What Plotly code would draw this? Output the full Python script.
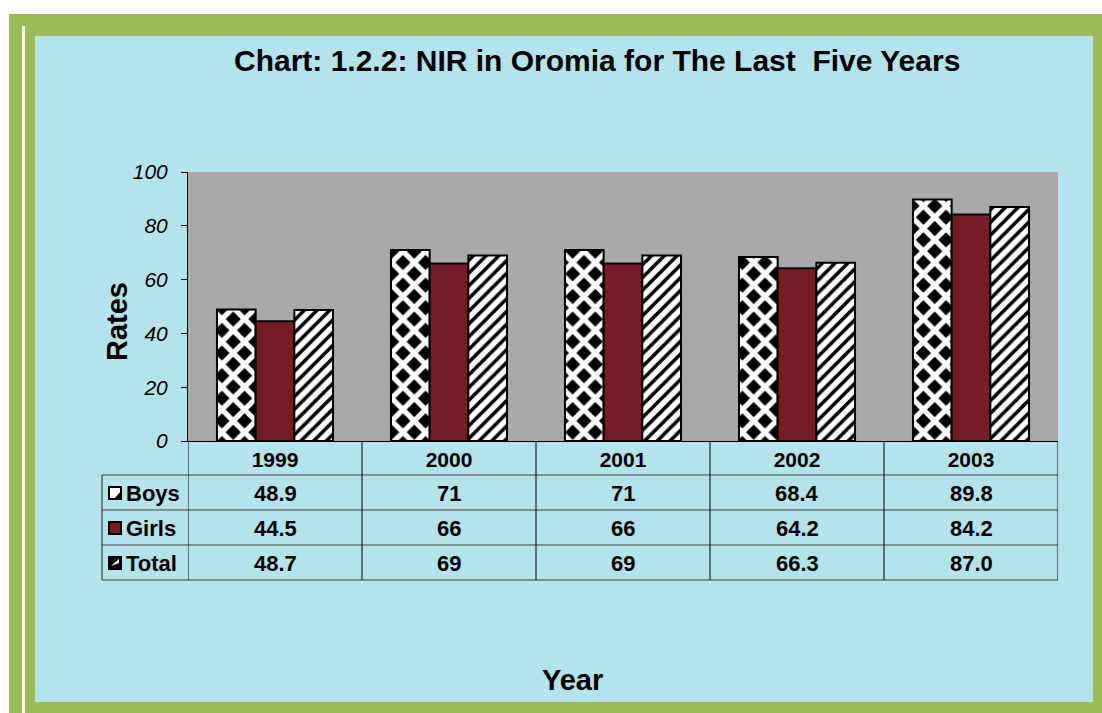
import plotly.graph_objects as go

years = ["1999", "2000", "2001", "2002", "2003"]
boys = [48.9, 71, 71, 68.4, 89.8]
girls = [44.5, 66, 66, 64.2, 84.2]
total = [48.7, 69, 69, 66.3, 87.0]
series_names = ["Boys", "Girls", "Total"]

FW, FH = 1102, 713
L, R, T, B = 188, 1058, 172, 441
W, H = R - L, B - T


def xp(px):
    return (px - L) / W


def yp(py):
    return (B - py) / H


FONT = "Liberation Sans, Arial, sans-serif"
GIRL_COL = "#741d27"

fig = go.Figure()
fig.add_trace(go.Bar(
    x=years, y=boys, name="Boys",
    marker=dict(color="white", line=dict(color="black", width=2),
                pattern=dict(shape="x", fillmode="replace", bgcolor="black",
                             fgcolor="white", size=16, solidity=0.55)),
))
fig.add_trace(go.Bar(
    x=years, y=girls, name="Girls",
    marker=dict(color=GIRL_COL, line=dict(color="black", width=2)),
))
fig.add_trace(go.Bar(
    x=years, y=total, name="Total",
    marker=dict(color="white", line=dict(color="black", width=2),
                pattern=dict(shape="/", fillmode="replace", bgcolor="white",
                             fgcolor="black", size=9, solidity=0.4)),
))

shapes = []
# page frame
shapes.append(dict(type="rect", xref="paper", yref="paper", layer="below",
                   x0=xp(9), x1=xp(1102), y0=yp(14), y1=yp(713),
                   fillcolor="#9bbb59", line=dict(width=0)))
shapes.append(dict(type="rect", xref="paper", yref="paper", layer="below",
                   x0=xp(22), x1=xp(25), y0=yp(26), y1=yp(713),
                   fillcolor="white", line=dict(width=0)))
shapes.append(dict(type="rect", xref="paper", yref="paper", layer="below",
                   x0=xp(35), x1=xp(1093), y0=yp(36), y1=yp(702),
                   fillcolor="#b4e3ec", line=dict(width=0)))
# plot area texture colour
shapes.append(dict(type="rect", xref="paper", yref="paper", layer="below",
                   x0=0, x1=1, y0=0, y1=1,
                   fillcolor="#a9a9ab", line=dict(width=0)))

# data table grid
row_lines = [475, 510, 545, 580]
for py in row_lines:
    shapes.append(dict(type="line", xref="paper", yref="paper",
                       x0=xp(102), x1=1, y0=yp(py), y1=yp(py),
                       line=dict(color="#444444", width=1)))
shapes.append(dict(type="line", xref="paper", yref="paper",
                   x0=xp(102), x1=xp(102), y0=yp(475), y1=yp(580),
                   line=dict(color="#222222", width=1)))
for i in range(len(years) + 1):
    shapes.append(dict(type="line", xref="x", yref="paper",
                       x0=i - 0.5, x1=i - 0.5, y0=0, y1=yp(580),
                       line=dict(color="black", width=1)))

annotations = []
row_centers = [493, 528, 563]
for r, (name, vals) in enumerate(zip(series_names, [boys, girls, total])):
    for i, v in enumerate(vals):
        annotations.append(dict(x=i, xref="x", y=yp(row_centers[r]), yref="paper",
                                xanchor="center", yanchor="middle",
                                text="<b>%s</b>" % str(v), showarrow=False,
                                font=dict(family=FONT, size=22, color="black")))
    annotations.append(dict(x=xp(124), xref="paper", y=yp(row_centers[r]), yref="paper",
                            text="<b>%s</b>" % name, showarrow=False,
                            xanchor="left", yanchor="middle",
                            font=dict(family=FONT, size=22, color="black")))

# legend keys in the table
for r in range(3):
    cy = row_centers[r]
    fill = ["white", GIRL_COL, "black"][r]
    shapes.append(dict(type="rect", xref="paper", yref="paper",
                       x0=xp(109), x1=xp(121), y0=yp(cy + 6), y1=yp(cy - 6),
                       fillcolor=fill, line=dict(color="black", width=2)))
# boys key: black lower-right corner; total key: white diagonal band
shapes.append(dict(type="path", xref="paper", yref="paper",
                   path="M %f,%f L %f,%f L %f,%f Z" % (xp(121), yp(499), xp(114), yp(499), xp(121), yp(491)),
                   fillcolor="black", line=dict(width=0)))
shapes.append(dict(type="path", xref="paper", yref="paper",
                   path="M %f,%f L %f,%f L %f,%f Z" % (xp(111), yp(566), xp(119), yp(559), xp(119), yp(563)),
                   fillcolor="white", line=dict(width=0)))

annotations.append(dict(x=xp(597), xref="paper", y=yp(60), yref="paper",
                        xanchor="center", yanchor="middle",
                        text="<b>Chart: 1.2.2: NIR in Oromia for The Last  Five Years</b>",
                        showarrow=False, font=dict(family=FONT, size=30, color="black")))
annotations.append(dict(x=xp(117), xref="paper", y=yp(322), yref="paper",
                        xanchor="center", yanchor="middle",
                        text="<b>Rates</b>", textangle=-90,
                        showarrow=False, font=dict(family=FONT, size=29, color="black")))
annotations.append(dict(x=xp(572), xref="paper", y=yp(680), yref="paper",
                        xanchor="center", yanchor="middle",
                        text="<b>Year</b>",
                        showarrow=False, font=dict(family=FONT, size=29, color="black")))

fig.update_layout(
    width=FW, height=FH,
    margin=dict(l=L, r=FW - R, t=T, b=FH - B, pad=0),
    paper_bgcolor="white",
    plot_bgcolor="rgba(0,0,0,0)",
    barmode="group", bargap=0.333, bargroupgap=0,
    showlegend=False,
    shapes=shapes, annotations=annotations,
    xaxis=dict(type="category", range=[-0.5, len(years) - 0.5], autorange=False,
               categoryorder="array", categoryarray=years,
               showline=True, linecolor="black", linewidth=1, ticks="",
               tickfont=dict(family=FONT, size=21, color="black", weight="bold"),
               ticklabelstandoff=0, showgrid=False, zeroline=False, fixedrange=True),
    yaxis=dict(range=[0, 100], autorange=False, dtick=20, showline=True, linecolor="black", linewidth=1,
               ticks="outside", ticklen=6, tickcolor="black",
               tickfont=dict(family=FONT, size=21, color="black", style="italic"),
               ticklabelstandoff=9,
               showgrid=False, zeroline=False, fixedrange=True),
)

fig.write_html("out.html", config={"displayModeBar": False},
               post_script="document.body.style.margin='0';")
